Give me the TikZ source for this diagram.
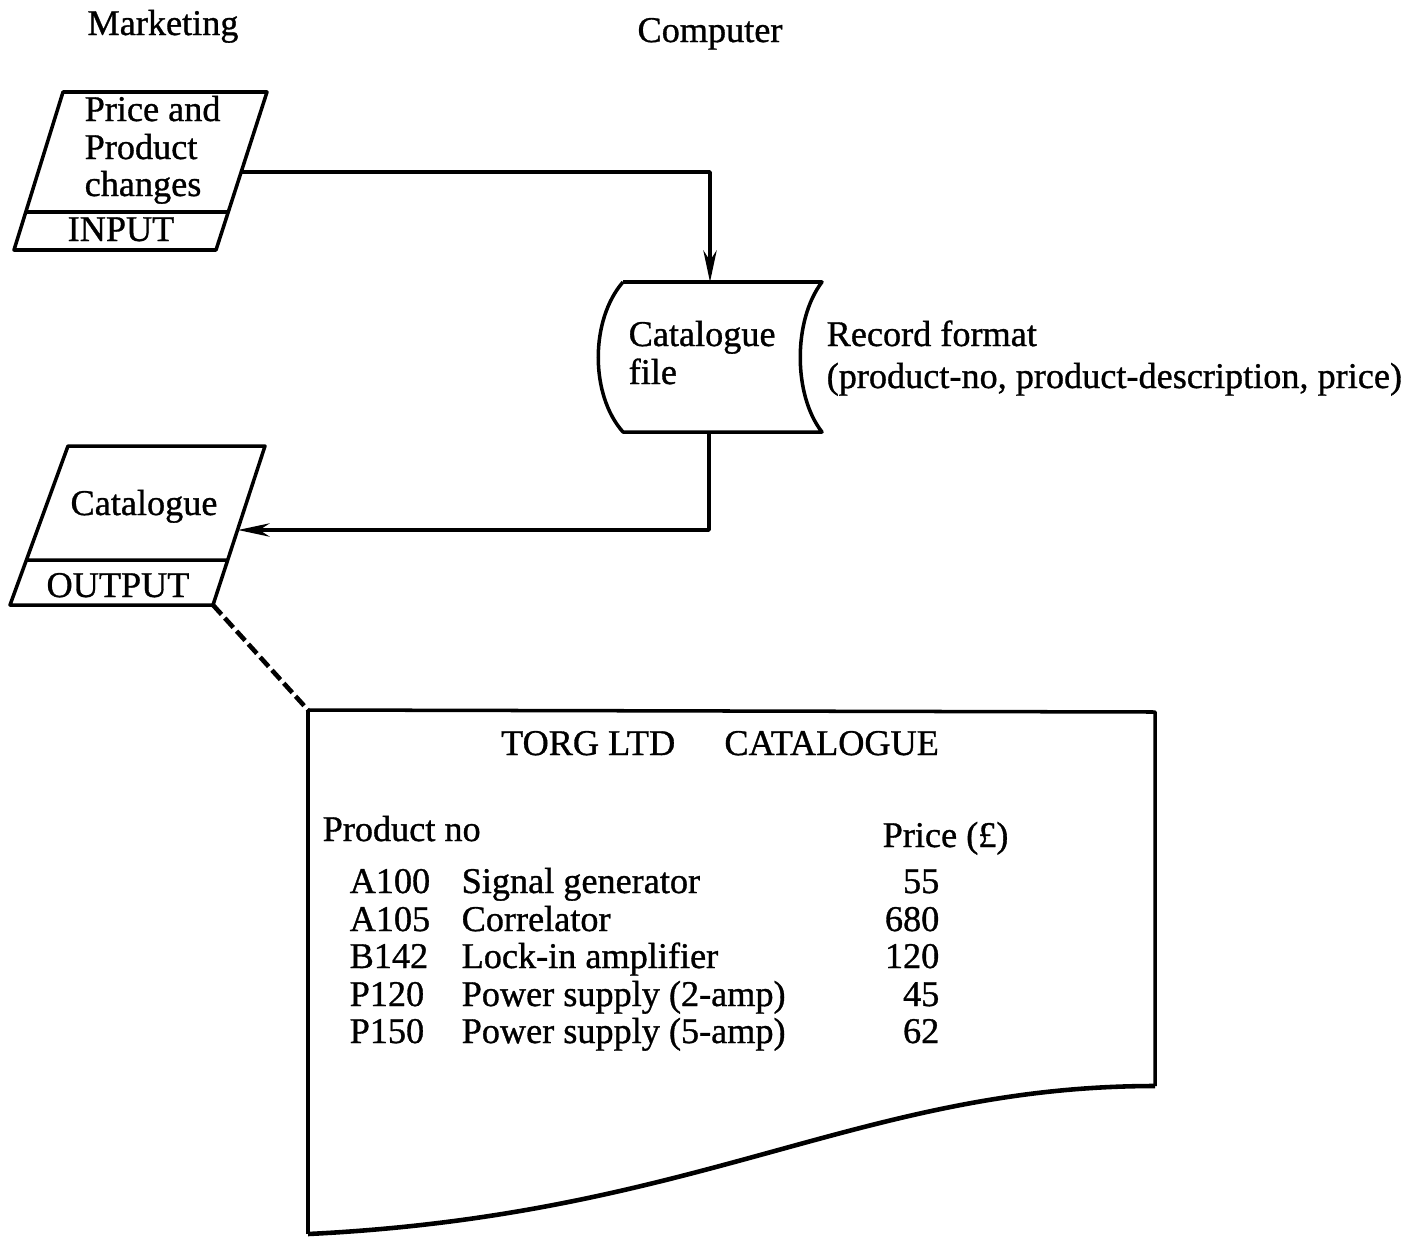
\documentclass[tikz,border=0pt]{standalone}
\usepackage{fontspec}
\setmainfont{Liberation Serif}[AutoFakeBold=0.9]
\usetikzlibrary{arrows.meta}

\begin{document}
\begin{tikzpicture}[x=0.01cm,y=-0.01cm,>={Stealth[length=9pt,width=3.8pt]},
  txt/.style={inner sep=0pt,anchor=base west,font=\fontsize{10.3}{11}\selectfont\bfseries},
  shp/.style={line width=1pt,line join=round}]
 \useasboundingbox (0,0) rectangle (1421,1239);
 % column heads
 \node[txt,anchor=base] (mkt) at (163,35) {Marketing};
 \node[txt,anchor=base] (cmp) at (710,42) {Computer};
 % input document
 \draw[shp] (63,92) -- (267,92) -- (216,250) -- (14,250) -- cycle (26,212) -- (228,212);
 \node[txt] (in1) at (84,121) {Price and};
 \node[txt] (in2) at (84,159) {Product};
 \node[txt] (in3) at (84,196) {changes};
 \node[txt,anchor=base] (inlbl) at (121,241) {INPUT};
 % catalogue file
 \draw[shp] (623,282) -- (822,282) .. controls (793,320) and (793,395) .. (822,432)
   -- (623,432) .. controls (590,395) and (590,320) .. (623,282);
 \node[txt] (f1) at (628,346) {Catalogue};
 \node[txt] (f2) at (628,384) {file};
 \node[txt] (rec1) at (826,346) {Record format};
 \node[txt] (rec2) at (826,388) {(product-no, product-description, price)};
 % output document
 \draw[shp] (68,446) -- (265,446) -- (213,605) -- (10,605) -- cycle (26,560) -- (228,560);
 \node[txt,anchor=base] (out1) at (144,515) {Catalogue};
 \node[txt,anchor=base] (outlbl) at (118,597) {OUTPUT};
 % connectors
 \coordinate (inR) at (241,172);
 \coordinate (fileT) at (710,282);
 \coordinate (fileB) at (709,432);
 \coordinate (outR) at (238,530);
 \coordinate (outC) at (213,605);
 \coordinate (docC) at (308,710);
 \draw[shp,->] (inR) -| (fileT);
 \draw[shp,->] (fileB) |- (outR);
 \draw[line width=1.3pt,dash pattern=on 3.6pt off 1.4pt] (outC) -- (docC);
 % printed catalogue
 \draw[shp] (docC) -- (1155,712) -- (1155,1086);
 \draw[shp,line width=1.3pt] (1155,1086) .. controls (860,1086) and (700,1215) .. (308,1234);
 \draw[shp] (308,1234) -- (docC);
 \node[txt,anchor=base] (ttl) at (720,755) {TORG LTD\hspace{14pt}CATALOGUE};
 \node[txt] (hno) at (322,841) {Product no};
 \node[txt] (hpr) at (882,847) {Price (£)};
 \foreach \c/\d/\p/\y in {A100/Signal generator/55/893, A105/Correlator/680/931,
     B142/Lock-in amplifier/120/968, P120/Power supply (2-amp)/45/1006,
     P150/Power supply (5-amp)/62/1043} {
   \node[txt] (c\c) at (349,\y) {\c};
   \node[txt] (d\c) at (461,\y) {\d};
   \node[txt,anchor=base east] (p\c) at (940,\y) {\p};
 }
\end{tikzpicture}
\end{document}
